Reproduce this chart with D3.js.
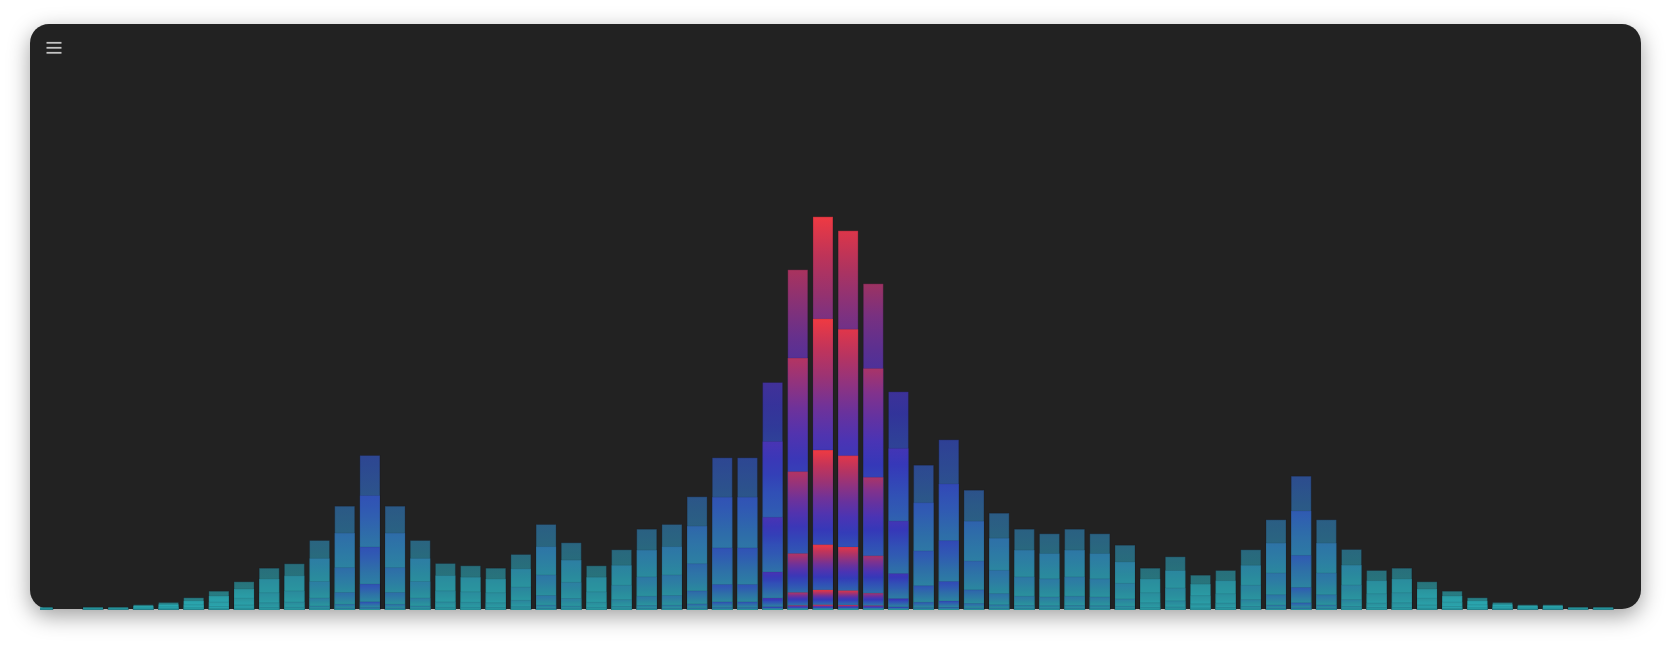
<!DOCTYPE html>
<html>
<head>
<meta charset="utf-8">
<script src="https://cdn.jsdelivr.net/npm/d3@7/dist/d3.min.js"></script>
<style>
  html, body { margin: 0; padding: 0; background: #ffffff; width: 1671px; height: 650px; overflow: hidden; }
  #card { position: absolute; left: 30px; top: 24px; width: 1611px; height: 584.5px;
          background: #222222; border-radius: 19px; box-shadow: 0 7px 22px rgba(0,0,0,0.38); }
  svg { position: absolute; left: 0; top: 0; }
</style>
</head>
<body>
<div id="card"></div>
<svg id="chart" width="1671" height="650"></svg>
<script>
// ---------- data ----------
const categories = [0,1,2,3,4,5,6,7,8,9,10,11,12,13,14,15,16,17,18,19,20,21,22,23,24,25,26,27,28,29,30,
  31,32,33,34,35,36,37,38,39,40,41,42,43,44,45,46,47,48,49,50,51,52,53,54,55,56,57,58,59,60,61,62];

const layer0 = [2.3,0,2.3,2.3,4.7,7,11.7,18.3,27.7,41.3,45.7,69,103.3,154,103.3,69,46,43.7,41.3,55,85,66.7,43.7,59.7,80.3,85,
  112.7,151.7,151.7,227,339.7,392.7,378.7,325.7,217.7,144.3,169.7,119.3,96.3,80.3,75.7,80.3,75.7,64.3,41.3,52.7,34.3,39,59.7,
  89.7,133.3,89.7,60,39,41.3,27.7,18.3,11.7,7,4.7,4.7,2.3,2.3];
const layer1 = [1.7,0,1.7,1.7,3.5,5.2,8.7,13.5,20.5,30.6,33.8,51.1,76.4,114,76.4,51.1,34,32.3,30.6,40.7,62.9,49.4,32.3,44.2,59.4,62.9,
  83.4,112.3,112.3,168,251.4,290.6,280.2,241,161.1,106.8,125.6,88.3,71.3,59.4,56,59.4,56,47.6,30.6,39,25.4,28.9,44.2,
  66.4,98.6,66.4,44.4,28.9,30.6,20.5,13.5,8.7,5.2,3.5,3.5,1.7,1.7];
const layer2 = [0.9,0,0.9,0.9,1.9,2.8,4.8,7.4,11.2,16.8,18.6,28,41.9,62.5,41.9,28,18.7,17.7,16.8,22.3,34.5,27.1,17.7,24.2,32.6,34.5,
  45.8,61.6,61.6,92.2,137.9,159.4,153.8,132.2,88.4,58.6,68.9,48.4,39.1,32.6,30.7,32.6,30.7,26.1,16.8,21.4,13.9,15.8,24.2,
  36.4,54.1,36.4,24.4,15.8,16.8,11.2,7.4,4.8,2.8,1.9,1.9,0.9,0.9];
const layer3 = [0.4,0,0.4,0.4,0.8,1.2,1.9,3,4.6,6.8,7.5,11.4,17,25.4,17,11.4,7.6,7.2,6.8,9.1,14,11,7.2,9.9,13.2,14,
  18.6,25,25,37.5,56,64.8,62.5,53.7,35.9,23.8,28,19.7,15.9,13.2,12.5,13.2,12.5,10.6,6.8,8.7,5.7,6.4,9.9,
  14.8,22,14.8,9.9,6.4,6.8,4.6,3,1.9,1.2,0.8,0.8,0.4,0.4];
const layer4 = [0.1,0,0.1,0.1,0.2,0.4,0.6,0.9,1.4,2.1,2.3,3.5,5.2,7.7,5.2,3.5,2.3,2.2,2.1,2.8,4.3,3.3,2.2,3,4,4.3,
  5.6,7.6,7.6,11.4,17,19.6,18.9,16.3,10.9,7.2,8.5,6,4.8,4,3.8,4,3.8,3.2,2.1,2.6,1.7,2,3,
  4.5,6.7,4.5,3,2,2.1,1.4,0.9,0.6,0.4,0.2,0.2,0.1,0.1];
const layer5 = [0,0,0,0,0.1,0.1,0.1,0.2,0.3,0.5,0.5,0.8,1.2,1.8,1.2,0.8,0.6,0.5,0.5,0.7,1,0.8,0.5,0.7,1,1,
  1.4,1.8,1.8,2.7,4.1,4.7,4.5,3.9,2.6,1.7,2,1.4,1.2,1,0.9,1,0.9,0.8,0.5,0.6,0.4,0.5,0.7,
  1.1,1.6,1.1,0.7,0.5,0.5,0.3,0.2,0.1,0.1,0.1,0.1,0,0];
const layers = [layer0, layer1, layer2, layer3, layer4, layer5];

// ---------- styles ----------
const colorStopValues = [0, 25, 45, 70, 100, 130, 160, 195, 228, 260, 290, 325, 345, 375, 393];
const colorStopColors = ["#2aacb4","#2a959f","#2a8a9d","#2d7ca4","#2e6ea8","#305cb2","#314eb6","#3538b8",
  "#4a34b4","#6432a0","#7e3290","#a83468","#b83460","#dc354c","#ef3a42"];

const svg = d3.select("#chart");
const x = d3.scaleBand().domain(categories).range([30.1, 1615.8]).paddingInner(0.205).paddingOuter(0.1025);
const y = d3.scaleLinear().domain([0, 400]).range([609.5, 209.5]);
const color = d3.scaleLinear().domain(colorStopValues).range(colorStopColors).interpolate(d3.interpolateRgb).clamp(true);
const vmax = d3.max(layer0);

const defs = svg.append("defs");
defs.append("clipPath").attr("id", "plotClip")
  .append("rect").attr("x", 40).attr("y", 0).attr("width", 1600).attr("height", 650);

const stopsS = d3.range(0, 1.0001, 0.1);
categories.forEach((c, i) => {
  const V = layer0[i];
  const gi = defs.append("linearGradient").attr("id", "g" + i)
    .attr("x1", 0).attr("y1", 0).attr("x2", 0).attr("y2", 1);
  stopsS.forEach(s => gi.append("stop").attr("offset", s).attr("stop-color", color(V * (1 - s))));
  const oTop = 0.72 + 0.28 * Math.pow(V / vmax, 2);
  const go = defs.append("linearGradient").attr("id", "go" + i)
    .attr("x1", 0).attr("y1", 0).attr("x2", 0).attr("y2", 1);
  stopsS.forEach(s => go.append("stop").attr("offset", s)
    .attr("stop-color", color(V * (1 - s)))
    .attr("stop-opacity", oTop + (0.72 - oTop) * s));
});

const plot = svg.append("g").attr("clip-path", "url(#plotClip)");
layers.forEach((arr, k) => {
  plot.append("g").attr("class", "layer" + k)
    .selectAll("rect").data(categories).join("rect")
    .attr("x", c => x(c))
    .attr("width", x.bandwidth())
    .attr("y", (c, i) => y(arr[i]))
    .attr("height", (c, i) => y(0) - y(arr[i]))
    .attr("fill", (c, i) => k === 0 ? `url(#go${i})` : `url(#g${i})`)
    .attr("stroke", k === 0 ? "rgba(20,20,30,0.25)" : "rgba(20,20,30,0.1)")
    .attr("stroke-width", 1);
});

// menu icon
const menu = svg.append("g").attr("stroke", "#c4c4c4").attr("stroke-width", 1.8);
[42.8, 47.8, 52.8].forEach(yy => menu.append("line").attr("x1", 46.5).attr("x2", 61.5).attr("y1", yy).attr("y2", yy));
</script>
</body>
</html>
